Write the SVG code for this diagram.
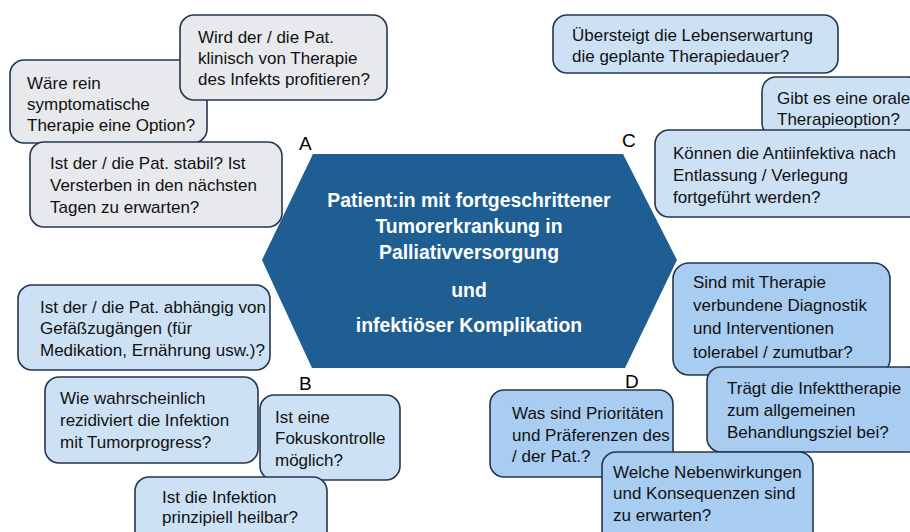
<svg xmlns="http://www.w3.org/2000/svg" width="910" height="532" viewBox="0 0 910 532">
<defs>
<style>
.box{stroke:#24364e;stroke-width:1.6}
.gray{fill:#e7e9ed}
.lb{fill:#cde1f5}
.db{fill:#a9cdf1}
.t{font-family:"Liberation Sans",Arial,sans-serif;font-size:17px;fill:#111}
.hx{font-family:"Liberation Sans",Arial,sans-serif;font-size:19.4px;font-weight:bold;fill:#ffffff;text-anchor:middle}
.lbl{font-family:"Liberation Sans",Arial,sans-serif;font-size:19px;fill:#000}
</style>
</defs>
<rect width="910" height="532" fill="#ffffff"/>
<g id="center">
<polygon points="313,154 623,154 677,260 625,368 312,368 262,260" fill="#1e5e93"/>
<text class="hx" x="469" y="207">Patient:in mit fortgeschrittener</text>
<text class="hx" x="469" y="233">Tumorerkrankung in</text>
<text class="hx" x="469" y="259">Palliativversorgung</text>
<text class="hx" x="469" y="297">und</text>
<text class="hx" x="469" y="332">infektiöser Komplikation</text>
</g>
<g id="labels">
<text class="lbl" x="299" y="150">A</text>
<text class="lbl" x="622" y="147">C</text>
<text class="lbl" x="299" y="390">B</text>
<text class="lbl" x="625" y="388">D</text>
</g>
<g id="a2">
<rect class="box gray" x="10" y="60" width="197" height="83" rx="14"/>
<text class="t" x="27" y="89">Wäre rein</text>
<text class="t" x="27" y="110">symptomatische</text>
<text class="t" x="27" y="131">Therapie eine Option?</text>
</g>
<g id="a1">
<rect class="box gray" x="180" y="15" width="207" height="85" rx="14"/>
<text class="t" x="198" y="43">Wird der / die Pat.</text>
<text class="t" x="198" y="64">klinisch von Therapie</text>
<text class="t" x="198" y="85">des Infekts profitieren?</text>
</g>
<g id="a3">
<rect class="box gray" x="30" y="142" width="252" height="85" rx="14"/>
<text class="t" x="50" y="169">Ist der / die Pat. stabil? Ist</text>
<text class="t" x="50" y="191">Versterben in den nächsten</text>
<text class="t" x="50" y="213">Tagen zu erwarten?</text>
</g>
<g id="c1">
<rect class="box lb" x="553" y="15" width="285" height="58" rx="14"/>
<text class="t" x="572" y="41">Übersteigt die Lebenserwartung</text>
<text class="t" x="572" y="62">die geplante Therapiedauer?</text>
</g>
<g id="c2">
<rect class="box lb" x="762" y="77" width="160" height="60" rx="14"/>
<text class="t" x="777" y="104">Gibt es eine orale</text>
<text class="t" x="777" y="125">Therapieoption?</text>
</g>
<g id="c3">
<rect class="box lb" x="655" y="130" width="267" height="87" rx="14"/>
<text class="t" x="673" y="159">Können die Antiinfektiva nach</text>
<text class="t" x="673" y="181">Entlassung / Verlegung</text>
<text class="t" x="673" y="203">fortgeführt werden?</text>
</g>
<g id="b1">
<rect class="box lb" x="18" y="285" width="252" height="85" rx="14"/>
<text class="t" x="40" y="313">Ist der / die Pat. abhängig von</text>
<text class="t" x="40" y="334">Gefäßzugängen (für</text>
<text class="t" x="40" y="356">Medikation, Ernährung usw.)?</text>
</g>
<g id="b2">
<rect class="box lb" x="45" y="377" width="213" height="86" rx="14"/>
<text class="t" x="60" y="404">Wie wahrscheinlich</text>
<text class="t" x="60" y="426">rezidiviert die Infektion</text>
<text class="t" x="60" y="448">mit Tumorprogress?</text>
</g>
<g id="b3">
<rect class="box lb" x="260" y="395" width="140" height="85" rx="14"/>
<text class="t" x="275" y="423">Ist eine</text>
<text class="t" x="275" y="444">Fokuskontrolle</text>
<text class="t" x="275" y="466">möglich?</text>
</g>
<g id="b4">
<rect class="box lb" x="135" y="477" width="192" height="70" rx="14"/>
<text class="t" x="162" y="503">Ist die Infektion</text>
<text class="t" x="162" y="523">prinzipiell heilbar?</text>
</g>
<g id="d1">
<rect class="box db" x="673" y="263" width="217" height="112" rx="16"/>
<text class="t" x="693" y="288">Sind mit Therapie</text>
<text class="t" x="693" y="311">verbundene Diagnostik</text>
<text class="t" x="693" y="334">und Interventionen</text>
<text class="t" x="693" y="358">tolerabel / zumutbar?</text>
</g>
<g id="d2">
<rect class="box db" x="707" y="367" width="215" height="85" rx="14"/>
<text class="t" x="727" y="394">Trägt die Infekttherapie</text>
<text class="t" x="727" y="416">zum allgemeinen</text>
<text class="t" x="727" y="438">Behandlungsziel bei?</text>
</g>
<g id="d3">
<rect class="box db" x="490" y="390" width="183" height="87" rx="14"/>
<text class="t" x="512" y="419">Was sind Prioritäten</text>
<text class="t" x="512" y="441">und Präferenzen des</text>
<text class="t" x="512" y="462">/ der Pat.?</text>
</g>
<g id="d4">
<rect class="box db" x="602" y="452" width="211" height="95" rx="14"/>
<text class="t" x="613" y="478">Welche Nebenwirkungen</text>
<text class="t" x="613" y="499">und Konsequenzen sind</text>
<text class="t" x="613" y="521">zu erwarten?</text>
</g>
<g id="connectors"></g>
</svg>
